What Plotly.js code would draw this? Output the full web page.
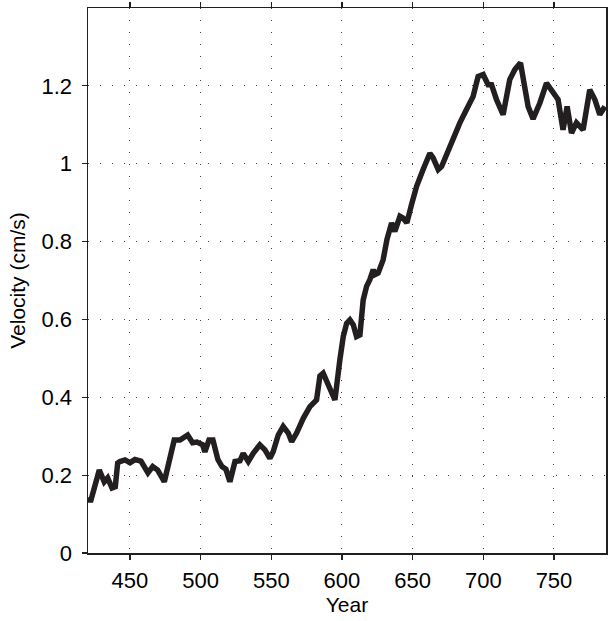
<!DOCTYPE html>
<html>
<head>
<meta charset="utf-8">
<script src="https://cdn.plot.ly/plotly-3.0.1.min.js"></script>
<style>html,body{margin:0;padding:0;background:#fff;}#chart{width:608px;height:621px;}</style>
</head>
<body>
<div id="chart"></div>
<script>
var years = [420.3,422.4,428.3,431.8,434.2,437.3,439.6,441.3,442.9,446.5,450.0,453.5,457.8,462.7,466.1,469.6,474.3,481.3,485.4,490.8,494.3,497.4,501.4,503.0,505.9,508.7,512.2,515.1,517.9,520.7,524.3,527.8,530.1,533.7,537.2,541.9,545.5,549.0,551.3,554.9,558.4,562.0,564.4,567.9,572.6,577.3,582.0,584.4,586.7,590.2,592.6,595.0,598.5,600.9,603.3,605.6,608.0,610.3,612.7,615.0,617.4,619.7,622.1,623.3,625.6,629.1,631.8,635.1,637.4,641.0,643.3,645.9,649.2,652.8,657.4,662.2,664.5,668.1,670.5,675.1,679.9,683.4,688.1,692.8,696.3,699.9,703.4,705.8,709.3,714.0,718.7,722.3,726.3,729.4,731.7,735.2,740.0,744.7,749.4,752.9,756.4,759.3,762.4,765.9,770.6,775.3,778.9,782.4,786.0];
var velocity = [0.136,0.136,0.213,0.183,0.193,0.167,0.170,0.231,0.235,0.239,0.232,0.240,0.236,0.206,0.222,0.213,0.183,0.290,0.290,0.303,0.283,0.285,0.278,0.260,0.290,0.290,0.240,0.222,0.215,0.183,0.235,0.237,0.256,0.235,0.256,0.278,0.265,0.243,0.260,0.303,0.325,0.308,0.286,0.308,0.346,0.376,0.393,0.455,0.462,0.432,0.410,0.393,0.496,0.556,0.590,0.599,0.586,0.556,0.560,0.650,0.685,0.702,0.728,0.715,0.719,0.753,0.805,0.848,0.826,0.865,0.860,0.848,0.895,0.942,0.985,1.027,1.015,0.985,0.993,1.036,1.079,1.105,1.139,1.173,1.224,1.229,1.203,1.203,1.165,1.126,1.216,1.242,1.259,1.199,1.147,1.115,1.156,1.207,1.182,1.165,1.087,1.147,1.079,1.105,1.087,1.190,1.165,1.126,1.147];
var xTicks = [450,500,550,600,650,700,750];
var yTicks = [0,0.2,0.4,0.6,0.8,1,1.2];
var yTickText = ['0','0.2','0.4','0.6','0.8','1','1.2'];

var fontFam = 'Liberation Sans, Arial, sans-serif';
var axisCommon = {
  showline: true, linecolor: '#231f20', linewidth: 1.5, mirror: 'ticks',
  ticks: 'outside', ticklen: 5, tickwidth: 1.2, tickcolor: '#231f20',
  showgrid: true, gridcolor: '#444444', gridwidth: 1, griddash: '1.2px,10.8px',
  zeroline: false, tickfont: {family: fontFam, size: 22, color: '#000'}
};
var layout = {
  width: 608, height: 621,
  margin: {l: 88, r: 2, t: 8, b: 68},
  paper_bgcolor: '#fff', plot_bgcolor: '#fff',
  showlegend: false,
  xaxis: Object.assign({}, axisCommon, {
    range: [420.3, 786.8], tickmode: 'array', tickvals: xTicks,
    ticklabelstandoff: 2,
    title: {text: 'Year', font: {family: fontFam, size: 21, color: '#000'}, standoff: 4}
  }),
  yaxis: Object.assign({}, axisCommon, {
    range: [0, 1.4], tickmode: 'array', tickvals: yTicks, ticktext: yTickText,
    ticklabelstandoff: 5,
    title: {text: 'Velocity (cm/s)', font: {family: fontFam, size: 21, color: '#000'}, standoff: 10}
  })
};
var trace = {
  x: years, y: velocity, type: 'scatter', mode: 'lines',
  line: {color: '#231f20', width: 5.5},
  hoverinfo: 'skip'
};
Plotly.newPlot('chart', [trace], layout, {displayModeBar: false, staticPlot: true});
</script>
</body>
</html>
